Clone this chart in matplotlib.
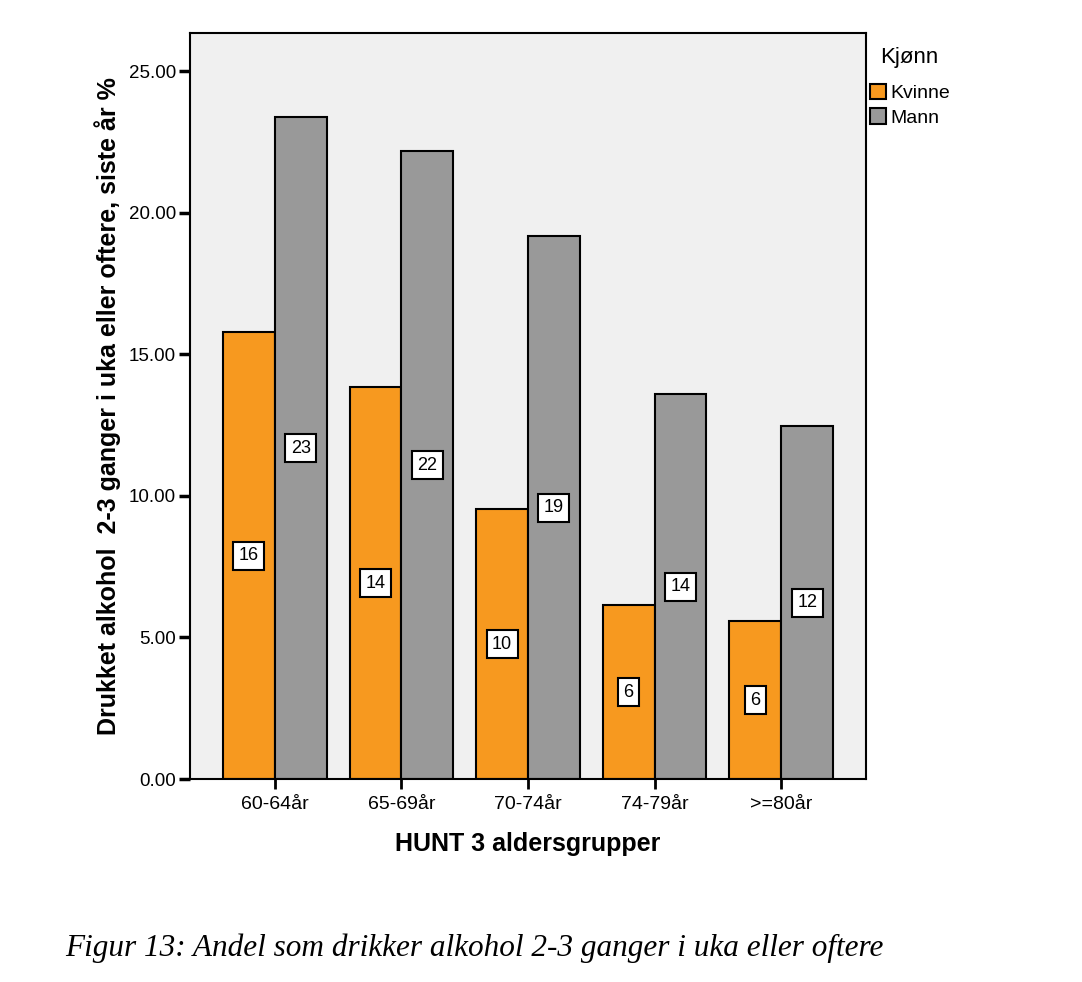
import numpy as np
import matplotlib
matplotlib.use('Agg')
import matplotlib.pyplot as plt
from matplotlib.patches import Patch

# Values (percent)
age_groups = ['60-64år', '65-69år', '70-74år', '74-79år', '>=80år']
kvinne = [15.78, 13.84, 9.53, 6.14, 5.58]
mann = [23.38, 22.18, 19.17, 13.59, 12.46]
y_ticks = [0, 5, 10, 15, 20, 25]

orange = '#F7991F'
grey = '#999999'

plt.rcParams['font.family'] = ['Liberation Sans', 'DejaVu Sans']

fig = plt.figure(figsize=(10.82, 9.82), dpi=100)
ax = fig.add_axes([190 / 1082, 1 - 779 / 982, 676 / 1082, 746 / 982])
ax.set_facecolor('#F0F0F0')

x = np.arange(len(age_groups))
w = 0.41
bars_k = ax.bar(x - w / 2, kvinne, w, color=orange, edgecolor='black', linewidth=1.5)
bars_m = ax.bar(x + w / 2, mann, w, color=grey, edgecolor='black', linewidth=1.5)

# rounded value labels in white boxes at mid-height
for bars, vals in [(bars_k, kvinne), (bars_m, mann)]:
    for b, v in zip(bars, vals):
        ax.text(b.get_x() + b.get_width() / 2, v / 2, f'{round(v):d}',
                ha='center', va='center', fontsize=13,
                bbox=dict(boxstyle='square,pad=0.3', fc='white', ec='black', lw=1.5))

ax.set_xlim(-0.67, 4.67)
ax.set_ylim(0, 26.35)
ax.set_yticks(y_ticks)
ax.set_yticklabels([f'{t:.2f}' for t in y_ticks], fontsize=13.5)
ax.set_xticks(x)
ax.set_xticklabels(age_groups, fontsize=14)
ax.tick_params(axis='y', length=8, width=2.5, pad=2)
ax.tick_params(axis='x', length=7, width=2, pad=5)
for s in ax.spines.values():
    s.set_linewidth(1.5)

ax.set_ylabel('Drukket alkohol  2-3 ganger i uka eller oftere, siste år %',
              fontsize=18, fontweight='bold', labelpad=6)
ax.set_xlabel('HUNT 3 aldersgrupper', fontsize=18, fontweight='bold', labelpad=14)

fig.text(880 / 1082, 1 - 57 / 982, 'Kjønn', fontsize=16, va='center', ha='left')
handles = [Patch(facecolor=orange, edgecolor='black', lw=1.5),
           Patch(facecolor=grey, edgecolor='black', lw=1.5)]
leg = fig.legend(handles, ['Kvinne', 'Mann'], loc='upper left',
                 bbox_to_anchor=(868 / 1082, 1 - 82 / 982), frameon=False,
                 fontsize=14, handlelength=0.85, handleheight=0.85,
                 handletextpad=0.2, labelspacing=0.3, borderaxespad=0, borderpad=0.1)

fig.text(65 / 1082, 1 - 948 / 982, 'Figur 13: Andel som drikker alkohol 2-3 ganger i uka eller oftere',
         fontsize=22.5, family='Liberation Serif', style='italic', va='center', ha='left')

fig.savefig('out.png', dpi=100)
